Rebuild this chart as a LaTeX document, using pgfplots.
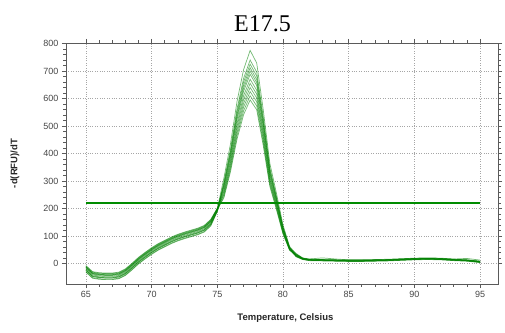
\documentclass[border=0pt]{standalone}
\usepackage{pgfplots}
\pgfplotsset{compat=1.18}
\usepackage{pgfplotstable}
\usepackage{fontspec}
\setmainfont{Liberation Sans}
\newfontfamily\titlefont{Liberation Serif}
\usetikzlibrary{calc}
\definecolor{cgreen}{RGB}{0,128,0}
\definecolor{tgreen}{RGB}{0,140,0}
\definecolor{ticktxt}{RGB}{70,70,70}
\definecolor{axline}{RGB}{90,90,90}
\pgfplotstableread{
x s1 s2 s3 s4 s5 s6 s7 s8 s9 s10 s11 s12
65 -12 -25 -17 -30 -8 -20 -26 -15 -32 -10 -23 -14
65.5 -34 -47 -39 -52 -30 -42 -48 -37 -54 -32 -45 -36
66 -38 -51 -43 -56 -34 -46 -52 -41 -58 -36 -49 -40
66.5 -39 -52 -44 -57 -35 -47 -53 -42 -59 -37 -50 -41
67 -39 -52 -44 -57 -35 -47 -53 -42 -59 -37 -50 -41
67.5 -36 -49 -41 -54 -32 -44 -50 -39 -56 -34 -47 -38
68 -24 -37 -29 -42 -20 -32 -38 -27 -44 -22 -35 -26
68.5 -4 -17 -9 -22 0 -12 -18 -7 -24 -2 -15 -6
69 18 5 13 0 22 10 4 15 -2 20 7 16
69.5 36 23 31 18 40 28 22 33 16 38 25 34
70 53 40 48 35 57 45 39 50 33 55 42 51
70.5 68 55 63 50 72 60 54 65 48 70 57 66
71 80 67 75 62 84 72 66 77 60 82 69 78
71.5 92 79 87 74 96 84 78 89 72 94 81 90
72 102 89 97 84 106 94 88 99 82 104 91 100
72.5 110 97 105 92 114 102 96 107 90 112 99 108
73 117 104 112 99 121 109 103 114 97 119 106 115
73.5 124 111 119 106 128 116 110 121 104 126 113 122
74 134 121 129 116 138 126 120 131 114 136 123 132
74.5 156 143 151 138 160 148 142 153 136 158 145 154
75 199 192 196 190 201 195 192 197 189 200 193 198
75.5 310 296 290 285 280 275 268 262 256 250 244 238
76 434 414 406 399 392 385 375 367 358 350 342 333
76.5 589 562 551 541 532 523 509 498 486 475 464 452
77 705 673 660 648 637 626 610 596 582 569 555 541
77.5 775 740 725 712 700 688 670 655 640 625 610 595
78 729 696 682 669 658 647 630 616 602 588 573 559
78.5 558 533 522 513 504 495 482 472 461 450 439 428
79 364 348 341 335 329 323 315 308 301 294 287 280
79.5 256 244 239 235 231 227 221 216 211 206 201 196
80 140 133 131 128 126 124 121 118 115 113 110 107
80.5 62 59 58 57 56 55 54 52 51 50 49 48
81 34 27 30 36 25 31 24 33 29 28 32 26
81.5 19 16 17 20 15 18 14 19 17 16 18 15
82 15 12 13 16 11 14 10 15 13 12 14 11
83 14 11 12 20 10 13 9 14 12 11 13 10
84 13 10 11 16 9 12 8 13 11 10 12 9
85 12 9 10 13 8 11 7 12 10 9 11 8
86 12 9 10 13 8 11 7 12 10 9 11 8
87 13 10 11 14 9 12 8 13 11 10 12 9
88 14 11 12 15 10 13 9 14 12 11 13 10
89 16 13 14 17 12 15 11 16 14 13 15 12
90 18 15 16 19 14 17 13 18 16 15 17 14
91 19 16 17 20 15 18 14 19 17 16 18 15
92 18 15 16 19 14 17 13 18 16 15 17 14
93 15 12 13 16 11 14 10 15 13 12 14 11
94 13 10 11 18 9 12 8 13 11 10 12 9
95 8 5 6 12 4 7 3 8 6 5 7 4
}\melt
\begin{document}
\begin{tikzpicture}
\begin{axis}[
  name=ax,
  scale only axis,
  width=432pt, height=241pt,
  xmin=63.48, xmax=96.37,
  ymin=-75, ymax=802,
  xtick={65,70,...,95},
  ytick={0,100,...,800},
  minor x tick num=4,
  minor y tick num=4,
  tick align=outside,
  major tick length=4pt,
  minor tick length=2.5pt,
  tick style={axline, line width=0.6pt},
  axis line style={axline, line width=0.7pt},
  grid=major,
  major grid style={dotted, gray!70, line width=0.6pt},
  /pgf/number format/assume math mode=true,
  ticklabel style={font=\fontsize{9}{10}\selectfont, text=ticktxt},
  xlabel={Temperature, Celsius},
  ylabel={-d(RFU)/dT},
  xlabel style={font=\bfseries\fontsize{9.5}{11}\selectfont, text=black!85, at={(axis description cs:0.508,-0.142)}, anchor=center},
  ylabel style={font=\bfseries\fontsize{9.5}{11}\selectfont, text=black!85, at={(axis description cs:-0.118,0.5)}, anchor=center},
  title={E17.5},
  title style={font=\titlefont\fontsize{24}{28}\selectfont, at={(axis description cs:0.455,1.0)}, anchor=south, yshift=2pt},
  curve/.style={cgreen, opacity=0.55, line width=0.7pt, mark=none},
]
\addplot[curve] table[x=x, y=s1] {\melt};
\addplot[curve] table[x=x, y=s2] {\melt};
\addplot[curve] table[x=x, y=s3] {\melt};
\addplot[curve] table[x=x, y=s4] {\melt};
\addplot[curve] table[x=x, y=s5] {\melt};
\addplot[curve] table[x=x, y=s6] {\melt};
\addplot[curve] table[x=x, y=s7] {\melt};
\addplot[curve] table[x=x, y=s8] {\melt};
\addplot[curve] table[x=x, y=s9] {\melt};
\addplot[curve] table[x=x, y=s10] {\melt};
\addplot[curve] table[x=x, y=s11] {\melt};
\addplot[curve] table[x=x, y=s12] {\melt};
\addplot[tgreen, line width=1.2pt, mark=none] coordinates {(65,220) (95,220)};
\end{axis}
\pgfresetboundingbox
\path[use as bounding box] ($(ax.south west)+(-66pt,-49pt)$) rectangle ($(ax.north east)+(7pt,43pt)$);
\end{tikzpicture}
\end{document}
